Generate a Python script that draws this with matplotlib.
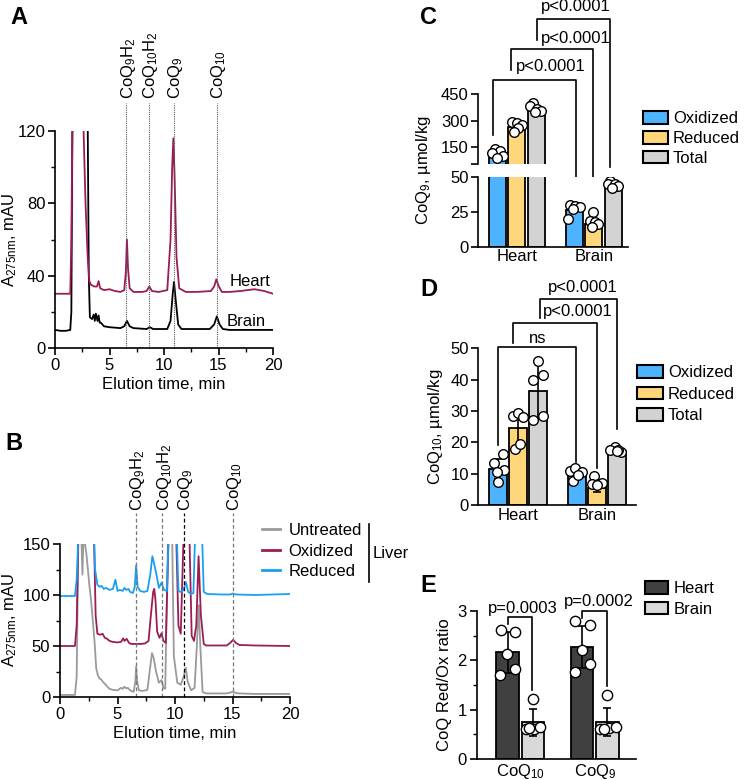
import numpy as np
import matplotlib.pyplot as plt
from matplotlib.patches import Patch
from matplotlib.lines import Line2D

plt.rcParams['font.family'] = ['Liberation Sans', 'DejaVu Sans']
plt.rcParams['font.size'] = 12
plt.rcParams['mathtext.fontset'] = 'custom'
plt.rcParams['mathtext.rm'] = 'Liberation Sans'
plt.rcParams['mathtext.it'] = 'Liberation Sans'
plt.rcParams['mathtext.bf'] = 'Liberation Sans:bold'
plt.rcParams['axes.linewidth'] = 1.2

#-------------------- data --------------------

# panel A : heart / brain chromatograms
a_heart_t = [0, 1.4, 1.5, 1.6, 2.6, 2.8, 3.0, 3.15, 3.3, 3.6, 3.85, 4.0, 4.15, 4.5, 5.0, 5.5, 6.0, 6.35, 6.5,
             6.6, 6.7, 6.85, 7.2, 8.0, 8.4, 8.65, 8.9, 9.5, 10.3, 10.6, 10.75, 10.86, 10.97, 11.15, 11.4, 12,
             13, 14.3, 14.6, 14.8, 15.0, 15.3, 16, 17, 18.3, 19.2, 20]
a_heart_v = [30, 30, 60, 125, 125, 80, 50, 37, 35, 34, 34, 37, 33, 32, 32.5, 31.5, 31, 32, 42,
             60, 44, 33, 31, 31, 31.5, 34, 31.5, 31, 32, 60, 100, 116, 95, 50, 33, 31,
             31, 31.5, 34, 38, 34.5, 31, 31, 31.5, 32.5, 31.5, 30]
a_brain_t = [0, 0.5, 1.0, 1.4, 1.5, 1.6, 3.0, 3.1, 3.2, 3.4, 3.55, 3.65, 3.75, 3.9, 4.0, 4.1, 4.2, 4.35,
             4.5, 5.0, 6.0, 6.35, 6.6, 6.85, 7.2, 8.4, 8.7, 9.0, 10.3, 10.6, 10.8, 10.92, 11.05, 11.3,
             11.6, 14.2, 14.6, 14.85, 15.1, 15.4, 16, 20]
a_brain_v = [10, 9.5, 9.5, 10, 20, 125, 125, 40, 17, 16, 18.5, 15, 19, 15, 18, 14, 14, 13,
             12, 11.5, 11, 12, 15, 12, 11, 10.5, 11.5, 10.5, 10.5, 15, 30, 36.5, 28, 13,
             10.5, 10.5, 13, 17.5, 13, 10.5, 10, 10]
a_peak_t = [6.55, 8.65, 10.95, 14.85]
a_peak_lab = ['CoQ$_9$H$_2$', 'CoQ$_{10}$H$_2$', 'CoQ$_9$', 'CoQ$_{10}$']

# panel B : liver chromatograms
b_red_t = [0, 1.3, 1.45, 1.6, 2.95, 3.05, 3.25, 3.45, 3.6, 3.8, 4.0, 4.3, 4.6, 4.82, 5.0, 5.2, 5.45, 5.6,
           5.75, 5.95, 6.1, 6.35, 6.5, 6.62, 6.75, 6.97, 7.3, 7.6, 7.85, 8.03, 8.2, 8.35, 8.6, 8.82,
           9.05, 9.3, 9.45, 10.15, 10.3, 10.5, 10.75, 10.94, 11.15, 11.4, 11.6, 11.75, 12.35, 12.5,
           12.8, 14, 14.8, 15.05, 15.3, 17, 20]
b_red_v = [99, 99, 115, 160, 160, 125, 110, 108, 109, 106, 107, 105, 106, 115, 104, 105, 104, 107,
           105, 106, 103, 102, 108, 129, 108, 104, 103, 104, 120, 138, 130, 122, 107, 112,
           105, 104, 160, 160, 104, 103, 105, 112.7, 103, 101, 102, 160, 160, 103,
           101, 100.5, 100.5, 101.5, 100.5, 100, 101]
b_ox_t = [0, 1.3, 1.45, 1.6, 2.95, 3.1, 3.25, 3.5, 3.7, 3.9, 4.1, 4.3, 4.6, 5.0, 5.3, 5.5, 5.6, 5.8, 6.0,
          6.2, 6.6, 7.0, 7.4, 7.7, 7.9, 8.1, 8.2, 8.3, 8.45, 8.65, 8.82, 9.0, 9.2, 9.45, 10.1, 10.3,
          10.5, 10.75, 11.25, 11.45, 11.65, 11.85, 12.05, 12.25, 12.5, 12.7, 13, 14.5, 14.8, 15.05,
          15.3, 15.6, 17, 20]
b_ox_v = [50, 50, 70, 160, 160, 80, 62, 61, 62, 58, 57, 55, 54, 53.5, 54, 57.5, 55, 57, 53,
          52, 52, 52, 52.5, 55, 80, 103, 106, 95, 64, 58, 62.5, 55, 53, 160, 160, 70,
          62, 160, 160, 60, 55, 70, 138, 80, 52, 50.5, 50.5, 50.5, 53, 56,
          53, 51, 50.5, 50]
b_unt_t = [0, 1.3, 1.45, 1.6, 1.85, 1.95, 2.05, 2.3, 2.4, 2.55, 2.7, 2.85, 3.0, 3.15, 3.3, 3.45, 3.6,
           3.75, 3.9, 4.05, 4.3, 4.6, 5.0, 5.3, 5.45, 5.6, 5.75, 5.9, 6.1, 6.4, 6.55, 6.62, 6.72,
           6.85, 7.2, 7.6, 7.85, 8.0, 8.15, 8.35, 8.6, 8.82, 9.0, 9.15, 9.4, 9.75, 9.9, 10.2, 10.5,
           10.75, 10.94, 11.1, 11.4, 11.7, 11.9, 12.06, 12.2, 12.4, 12.7, 14.5, 15.0, 15.5, 17, 20]
b_unt_v = [2, 2, 20, 160, 160, 120, 160, 140, 128, 110, 95, 75, 55, 28, 21, 18, 17,
           14.5, 13, 11, 8, 7, 6.5, 9, 8, 10, 8.5, 9, 6.5, 5, 15, 30, 15,
           6.5, 6, 7, 30, 43, 38, 25, 14, 16.5, 9, 8, 160, 160, 40, 14, 12,
           20, 28.7, 15, 6.5, 9, 50, 90, 50, 5, 3.5, 3.5, 5, 3.5, 3, 3]
b_peak_t = [6.58, 8.9, 10.8, 15.0]
b_series = ['Untreated', 'Oxidized', 'Reduced']

# panels C and D : CoQ content (mean bar, single animals as dots)
tissues = ['Heart', 'Brain']
forms = ['Oxidized', 'Reduced', 'Total']
c_mean = [[105, 262, 362], [26.5, 16, 43]]
c_dots = [[[138, 128, 112, 96, 88], [290, 285, 275, 258, 236], [398, 381, 367, 355, 350]],
          [[30, 29, 28, 27, 20], [24.5, 18, 17.5, 16.5, 14], [47, 45, 44.5, 43, 42]]]
c_dx = [[[-0.03, 0.035, -0.073, 0.078, 0.0], [-0.065, 0.0, 0.065, 0.02, -0.035], [-0.035, -0.078, 0.017, 0.065, -0.013]],
        [[-0.06, 0.004, 0.07, -0.026, -0.08], [-0.01, -0.052, 0.013, 0.056, -0.03], [-0.043, -0.073, 0.022, 0.065, -0.017]]]
d_mean = [[11.5, 24.5, 36.5], [9.8, 5.5, 17.2]]
d_sd = [[3.3, 5.5, 9.0], [1.5, 1.5, 0.6]]
d_dots = [[[13.5, 16.2, 11.1, 10.6, 7.4], [28.4, 29.5, 28.1, 17.8, 19.6], [46, 40, 41.4, 27.1, 28.3]],
          [[11, 11.8, 10.5, 7.5, 9.5], [9.2, 6.8, 6.6, 6.9, 6.5], [18.4, 17.5, 17.0, 17.7, 17.3]]]
d_dx = [[[-0.06, 0.06, 0.076, -0.01, 0.0], [-0.06, 0.0, 0.067, -0.038, 0.025], [0.0, -0.06, 0.067, -0.06, 0.067]],
        [[-0.09, -0.025, 0.06, -0.055, 0.016], [-0.04, -0.067, 0.017, 0.06, 0.0], [-0.025, -0.08, 0.06, 0.017, 0.0]]]

# panel E : Red/Ox ratio
e_groups = ['CoQ$_{10}$', 'CoQ$_9$']
e_tissues = ['Heart', 'Brain']
e_mean = [[2.16, 0.74], [2.27, 0.75]]
e_sd = [[0.42, 0.27], [0.43, 0.29]]
e_dots = [[[2.62, 2.58, 2.13, 1.82, 1.70], [1.22, 0.60, 0.60, 0.64, 0.62]],
          [[2.79, 2.72, 2.21, 1.93, 1.77], [1.30, 0.60, 0.62, 0.64, 0.60]]]
e_dx = [[[-0.09, 0.10, -0.01, 0.10, -0.10], [0.0, -0.1, 0.01, 0.1, -0.05]],
        [[-0.1, 0.1, 0.0, 0.1, -0.1], [0.0, -0.1, 0.02, 0.12, -0.05]]]

#-------------------- styles --------------------
W, H = 748, 780
maroon = '#9b1d55'
blue = '#1a9ff0'
grey = '#9a9a9a'
form_col = ['#4db3ff', '#ffd77a', '#d3d3d3']
e_col = ['#404040', '#d9d9d9']
ylab275 = r'A$_{\mathrm{275nm}}$, mAU'


def rect(l, t, r, b):
    return [l / W, 1 - b / H, (r - l) / W, (b - t) / H]


def style(ax, xlen=5):
    for s in ['top', 'right']:
        ax.spines[s].set_visible(False)
    ax.tick_params(axis='both', which='major', length=5, width=1.2, pad=2)
    ax.tick_params(axis='both', which='minor', length=3, width=1.0)
    ax.tick_params(axis='x', which='major', length=xlen)


def bracket(ax, x1, x2, ytop, y1, y2, txt, tx, ty):
    ax.plot([x1, x1, x2, x2], [y1, ytop, ytop, y2], color='black', lw=1.2, clip_on=False, zorder=6)
    ax.text(tx, ty, txt, ha='center', va='center')


def box_legend(handles, labels, x, y, hl, ls):
    fig.legend(handles, labels, loc='upper left', bbox_to_anchor=(x / W, 1 - y / H), frameon=False,
               borderpad=0, borderaxespad=0, handlelength=hl, handleheight=0.8,
               handletextpad=0.3, labelspacing=ls)


fig = plt.figure(figsize=(W / 100, H / 100), dpi=100)

#-------------------- A --------------------
ax = fig.add_axes(rect(55, 131, 273, 348))
ax.plot(a_brain_t, a_brain_v, color='black', lw=1.3)
ax.plot(a_heart_t, a_heart_v, color=maroon, lw=1.3)
ax.set_xlim(0, 20)
ax.set_ylim(0, 120)
ax.set_xticks([0, 5, 10, 15, 20])
ax.set_xticks(np.arange(0, 20, 2.5), minor=True)
ax.set_yticks([0, 40, 80, 120])
ax.set_yticks([20, 60, 100], minor=True)
style(ax)
ax.set_xlabel('Elution time, min', labelpad=3)
fig.text(10 / W, 1 - 240 / H, ylab275, rotation=90, ha='center', va='center')
for t, lab in zip(a_peak_t, a_peak_lab):
    ax.plot([t, t], [0, 135.5], color='#555555', lw=0.8, ls=(0, (1, 1)), clip_on=False)
    ax.text(t + 0.15, 137.5, lab, rotation=90, ha='center', va='bottom')
ax.text(17.9, 36.7, 'Heart', ha='center', va='center')
ax.text(17.5, 14.5, 'Brain', ha='center', va='center')

#-------------------- B --------------------
ax = fig.add_axes(rect(60, 544, 290, 697))
ax.plot(b_unt_t, b_unt_v, color=grey, lw=1.3)
ax.plot(b_ox_t, b_ox_v, color=maroon, lw=1.3)
ax.plot(b_red_t, b_red_v, color=blue, lw=1.3)
ax.set_xlim(0, 20)
ax.set_ylim(0, 150)
ax.set_xticks([0, 5, 10, 15, 20])
ax.set_xticks(np.arange(0, 20, 2.5), minor=True)
ax.set_yticks([0, 50, 100, 150])
ax.set_yticks([25, 75, 125], minor=True)
style(ax)
ax.set_xlabel('Elution time, min', labelpad=3)
fig.text(10 / W, 1 - 620 / H, ylab275, rotation=90, ha='center', va='center')
for i, (t, lab) in enumerate(zip(b_peak_t, a_peak_lab)):
    col = 'black' if i == 2 else '#777777'
    ax.plot([t, t], [0, 180], color=col, lw=0.9, ls=(0, (3, 2)), clip_on=False)
    ax.text(t + 0.15, 182, lab, rotation=90, ha='center', va='bottom')
hb = [Line2D([], [], color=c, lw=2) for c in [grey, maroon, blue]]
fig.legend(hb, b_series, loc='upper left', bbox_to_anchor=(262 / W, 1 - 523 / H), frameon=False,
           borderpad=0, borderaxespad=0, handlelength=1.1, handletextpad=0.5, labelspacing=0.33)
fig.add_artist(Line2D([369 / W, 369 / W], [1 - 524 / H, 1 - 582 / H], color='black', lw=1.2))
fig.text(373 / W, 1 - 553 / H, 'Liver', va='center', ha='left')

#-------------------- C --------------------
off = [-0.25, 0.0, 0.25]
axt = fig.add_axes(rect(478.5, 94.3, 628, 164.3))
axb = fig.add_axes(rect(478.5, 176.7, 628, 246.7))
for a, lo, hi in ((axt, 50, 450), (axb, 0, 50)):
    for g in range(2):
        for k in range(3):
            x = g + off[k]
            if c_mean[g][k] > lo:
                a.bar(x, c_mean[g][k], width=0.22, color=form_col[k], edgecolor='black', lw=1.3, zorder=2)
            dv = np.array(c_dots[g][k])
            keep = (dv > lo) & (dv <= hi)
            a.scatter(x + np.array(c_dx[g][k])[keep], dv[keep], s=48, facecolor='white',
                      edgecolor='black', lw=1.0, zorder=4)
    a.set_xlim(-0.494, 1.44)
    style(a, xlen=0)
axt.set_ylim(50, 450)
axt.set_yticks([50, 150, 300, 450])
axt.set_yticklabels(['', '150', '300', '450'])
axt.spines['bottom'].set_visible(False)
axt.set_xticks([])
axb.set_ylim(0, 50)
axb.set_yticks([0, 25, 50])
axb.set_xticks([0, 1])
axb.set_xticklabels(tissues)
fig.text(423 / W, 1 - 170 / H, 'CoQ$_9$, µmol/kg', rotation=90, ha='center', va='center')
bracket(axt, -0.30, 0.763, 532, 217, -125, 'p<0.0001', 0.44, 610)
bracket(axt, -0.074, 0.99, 707, 589, -125, 'p<0.0001', 0.767, 770)
bracket(axt, 0.266, 1.207, 879, 760, 35, 'p<0.0001', 0.767, 950)
hc = [Patch(facecolor=c, edgecolor='black', lw=1.5) for c in form_col]
box_legend(hc, forms, 643, 111, 1.5, 0.28)

#-------------------- D --------------------
ax = fig.add_axes(rect(478.5, 348.3, 636, 505))
for g in range(2):
    for k in range(3):
        x = g + off[k]
        ax.bar(x, d_mean[g][k], width=0.225, color=form_col[k], edgecolor='black', lw=1.3, zorder=2)
        ax.errorbar(x, d_mean[g][k], yerr=d_sd[g][k], fmt='none', ecolor='black', elinewidth=1.2,
                    capsize=3, capthick=1.2, zorder=3)
        ax.scatter(x + np.array(d_dx[g][k]), d_dots[g][k], s=48, facecolor='white',
                   edgecolor='black', lw=1.0, zorder=4)
ax.set_xlim(-0.5, 1.494)
ax.set_ylim(0, 50)
ax.set_yticks([0, 10, 20, 30, 40, 50])
ax.set_xticks([0, 1])
ax.set_xticklabels(tissues)
style(ax, xlen=0)
ax.set_ylabel('CoQ$_{10}$, µmol/kg', labelpad=4)
bracket(ax, -0.25, 0.734, 50.4, 19.1, 13.8, 'ns', 0.247, 53.1)
bracket(ax, -0.067, 0.996, 58, 51.6, 11.7, 'p<0.0001', 0.76, 61.6)
bracket(ax, 0.28, 1.25, 65.6, 59.6, 24.4, 'p<0.0001', 0.816, 69.5)
box_legend(hc, forms, 637, 365, 1.55, 0.38)

#-------------------- E --------------------
ax = fig.add_axes(rect(476.7, 611, 636, 759))
e_off = [-0.17, 0.17]
for g in range(2):
    for k in range(2):
        x = g + e_off[k]
        ax.bar(x, e_mean[g][k], width=0.30, color=e_col[k], edgecolor='black', lw=1.3, zorder=2)
        ax.errorbar(x, e_mean[g][k], yerr=e_sd[g][k], fmt='none', ecolor='black', elinewidth=1.2,
                    capsize=3, capthick=1.2, zorder=3)
        ax.scatter(x + np.array(e_dx[g][k]), e_dots[g][k], s=55, facecolor='white',
                   edgecolor='black', lw=1.0, zorder=4)
ax.set_xlim(-0.585, 1.553)
ax.set_ylim(0, 3)
ax.set_yticks([0, 1, 2, 3])
ax.set_yticks([0.5, 1.5, 2.5], minor=True)
ax.set_xticks([0, 1])
ax.set_xticklabels(e_groups)
style(ax, xlen=0)
ax.set_ylabel('CoQ Red/Ox ratio', labelpad=4)
bracket(ax, -0.17, 0.16, 2.886, 2.74, 1.40, 'p=0.0003', 0.03, 3.06)
bracket(ax, 0.824, 1.168, 3.0, 2.85, 1.47, 'p=0.0002', 1.05, 3.19)
he = [Patch(facecolor=c, edgecolor='black', lw=1.5) for c in e_col]
box_legend(he, e_tissues, 645, 581, 1.4, 0.33)

#-------------------- panel letters --------------------
for lab, x, y in [('A', 10, 18), ('B', 5, 444), ('C', 420, 17), ('D', 420, 290), ('E', 420, 585)]:
    fig.text(x / W, 1 - y / H, lab, fontsize=17, fontweight='bold', ha='left', va='center')

fig.savefig('out.png', dpi=100)
